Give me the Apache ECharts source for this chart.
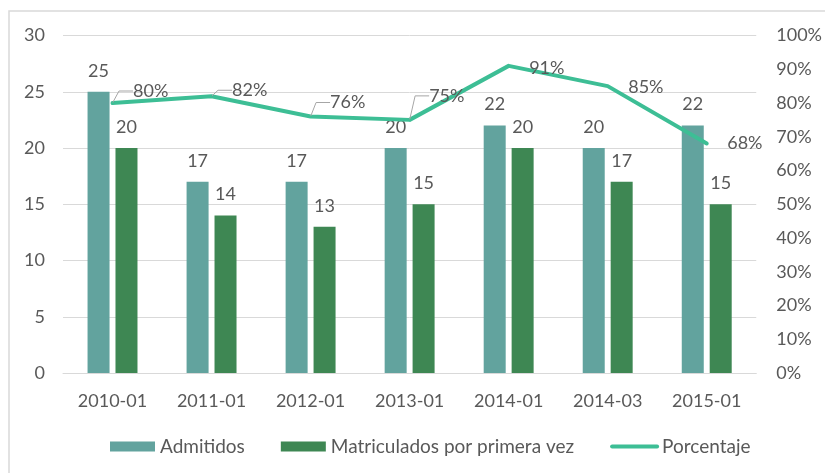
<!DOCTYPE html>
<html>
<head>
<meta charset="utf-8">
<script src="https://cdn.jsdelivr.net/npm/echarts@6/dist/echarts.min.js"></script>
<style>
  html, body { margin: 0; padding: 0; background: #fff; }
  #chart { width: 825px; height: 473px; }
</style>
</head>
<body>
<div id="chart"></div>
<script>
// datos
const categories = ['2010-01', '2011-01', '2012-01', '2013-01', '2014-01', '2014-03', '2015-01'];
const admitidos = [25, 17, 17, 20, 22, 20, 22];
const matriculados = [20, 14, 13, 15, 20, 17, 15];
const porcentaje = [80, 82, 76, 75, 91, 85, 68];
const leftAxis = { min: 0, max: 30, interval: 5 };
const rightAxis = { min: 0, max: 100, interval: 10 };

// desplazamiento de etiquetas del porcentaje (dx, dy) y lineas guia
const pctShift = [[16, -12], [16, -6], [15, -14], [15, -24], [16, 2], [16, 1], [16, 0]];
const pctGuide = [true, true, true, true, false, false, false];

const FONT = 'Lato';
const TXT = '#595959';

const chart = echarts.init(document.getElementById('chart'));

const option = {
  animation: false,
  textStyle: { fontFamily: FONT },
  graphic: [{
    type: 'rect',
    shape: { x: 9, y: 11, width: 900, height: 600 },
    style: { fill: 'none', stroke: '#d9d9d9', lineWidth: 1.5 },
    silent: true
  }],
  grid: { left: 63, right: 67, top: 35.5, bottom: 100, containLabel: false },
  legend: {
    left: 105,
    top: 432,
    itemWidth: 45,
    itemHeight: 10,
    itemGap: 36,
    textStyle: { color: TXT, fontSize: 19, fontFamily: FONT },
    data: [
      { name: 'Admitidos', icon: 'rect' },
      { name: 'Matriculados por primera vez', icon: 'rect' },
      { name: 'Porcentaje', itemStyle: { opacity: 0 }, lineStyle: { width: 4, cap: 'round' } }
    ]
  },
  xAxis: {
    type: 'category',
    data: categories,
    axisTick: { show: false },
    axisLine: { lineStyle: { color: '#d9d9d9', width: 1 } },
    axisLabel: { color: TXT, fontSize: 18, fontFamily: FONT, margin: 19, interval: 0 }
  },
  yAxis: [
    {
      type: 'value',
      min: leftAxis.min, max: leftAxis.max, interval: leftAxis.interval,
      axisLine: { show: false },
      axisTick: { show: false },
      axisLabel: { color: TXT, fontSize: 18, fontFamily: FONT, margin: 18 },
      splitLine: { lineStyle: { color: '#d9d9d9', width: 1 } }
    },
    {
      type: 'value',
      min: rightAxis.min, max: rightAxis.max, interval: rightAxis.interval,
      position: 'right',
      axisLine: { show: false },
      axisTick: { show: false },
      axisLabel: { color: TXT, fontSize: 18, fontFamily: FONT, margin: 20, formatter: '{value}%' },
      splitLine: { show: false }
    }
  ],
  series: [
    {
      name: 'Admitidos',
      type: 'bar',
      data: admitidos,
      barWidth: 22,
      barGap: '27%',
      itemStyle: { color: '#62a39e' },
      label: { show: true, position: 'top', distance: 12, color: TXT, fontSize: 18, fontFamily: FONT }
    },
    {
      name: 'Matriculados por primera vez',
      type: 'bar',
      data: matriculados,
      barWidth: 22,
      barGap: '27%',
      itemStyle: { color: '#3e8753' },
      label: { show: true, position: 'top', distance: 12, color: TXT, fontSize: 18, fontFamily: FONT }
    },
    {
      name: 'Porcentaje',
      type: 'line',
      yAxisIndex: 1,
      data: porcentaje.map((v, i) => ({
        value: v,
        labelLine: { show: pctGuide[i], length2: 14, lineStyle: { color: '#a6a6a6', width: 1 } }
      })),
      symbol: 'circle',
      symbolSize: 1,
      showSymbol: true,
      z: 5,
      lineStyle: { color: '#3dbe95', width: 4, cap: 'round', join: 'round' },
      itemStyle: { color: '#3dbe95' },
      label: {
        show: true,
        position: 'right',
        distance: 0,
        padding: [2, 4],
        color: TXT,
        fontSize: 18,
        fontFamily: FONT,
        formatter: '{c}%'
      },
      labelLine: {
        show: true,
        length2: 14,
        lineStyle: { color: '#a6a6a6', width: 1 }
      },
      labelLayout: function (p) {
        const s = pctShift[p.dataIndex] || [0, 0];
        return { dx: s[0], dy: s[1] };
      }
    }
  ]
};

chart.setOption(option);
</script>
</body>
</html>
